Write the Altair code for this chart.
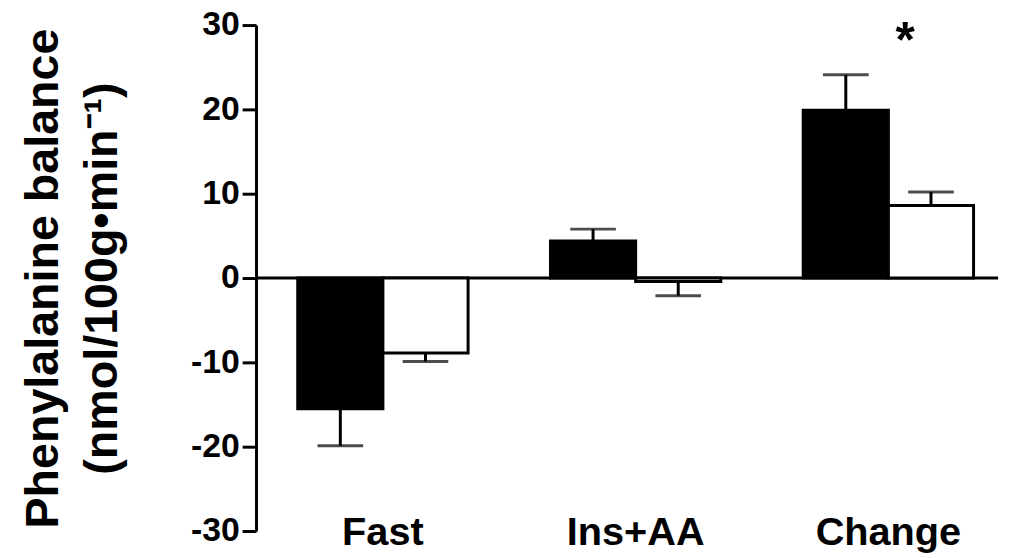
import altair as alt
import numpy as np
import pandas as pd

groups = ["Fast", "Ins+AA", "Change"]
series = ["Series A", "Series B"]
mean_a = [-15.5, 4.4, 19.9]
mean_b = [-8.9, -0.4, 8.6]
sem_a = [4.4, 1.4, 4.2]
sem_b = [1.0, 1.7, 1.6]
y_ticks = [-30, -20, -10, 0, 10, 20, 30]
y_title = ["Phenylalanine balance", "(nmol/100g\u2022min\u207b\u00b9)"]
star_group = "Change"
star_y = 28

rows = []
for g, m, s in zip(groups, mean_a, sem_a):
    rows.append({"group": g, "series": series[0], "mean": m, "sem": s})
for g, m, s in zip(groups, mean_b, sem_b):
    rows.append({"group": g, "series": series[1], "mean": m, "sem": s})
df = pd.DataFrame(rows)
df["end"] = df["mean"] + np.sign(df["mean"]) * df["sem"]

W, H = 748, 510
FONT = "Liberation Sans"

xscale = alt.Scale(domain=groups, paddingInner=0.326, paddingOuter=0.131, align=0.63)
yscale = alt.Scale(domain=[-30, 30], nice=False, zero=False)
offscale = alt.Scale(domain=series, paddingInner=0, paddingOuter=0)

x_enc = alt.X(
    "group:N", scale=xscale, sort=groups,
    axis=alt.Axis(title=None, domain=False, ticks=False, labelAngle=0,
                  labelFontSize=40, labelFontWeight="bold", labelFont=FONT,
                  labelColor="black", labelPadding=14, labelBaseline="alphabetic"),
)
off_enc = alt.XOffset("series:N", scale=offscale, sort=series)

y_axis = alt.Axis(values=y_ticks, title=y_title,
                  labelExpr="'' + datum.value",
                  titleFont=FONT, titleFontSize=47, titleFontWeight="bold",
                  titleColor="black", titlePadding=64, titleLineHeight=60,
                  labelFont=FONT, labelFontSize=34, labelFontWeight="bold",
                  labelColor="black", labelPadding=3,
                  tickSize=14, tickWidth=3, tickColor="black",
                  domainWidth=3, domainColor="black", grid=False)

zero = alt.Chart(pd.DataFrame({"y": [0]})).mark_rule(color="black", strokeWidth=3).encode(
    y=alt.Y("y:Q", scale=yscale, axis=y_axis), x=alt.value(0), x2=alt.value(W)
)

bars = alt.Chart(df).mark_bar(stroke="black", strokeWidth=3).encode(
    x=x_enc,
    xOffset=off_enc,
    y=alt.Y("mean:Q", scale=yscale, axis=y_axis),
    fill=alt.Fill("series:N", scale=alt.Scale(domain=series, range=["black", "white"]), legend=None),
)

err = alt.Chart(df).mark_rule(color="black", strokeWidth=3).encode(
    x=x_enc, xOffset=off_enc,
    y=alt.Y("mean:Q", scale=yscale, axis=y_axis), y2="end:Q",
)

caps = alt.Chart(df).mark_tick(color="black", thickness=3, size=46).encode(
    x=x_enc, xOffset=off_enc,
    y=alt.Y("end:Q", scale=yscale, axis=y_axis),
)

star = alt.Chart(pd.DataFrame({"group": [star_group], "y": [star_y]})).mark_text(
    text="*", fontSize=50, fontWeight="bold", font=FONT, color="black", dx=17, baseline="middle"
).encode(x=x_enc, y=alt.Y("y:Q", scale=yscale, axis=y_axis))

chart = alt.layer(zero, bars, err, caps, star).properties(
    width=W, height=H,
    autosize=alt.AutoSizeParams(type="none"),
    padding={"left": 250, "top": 15, "right": 8, "bottom": 25},
    background="white",
).configure_view(stroke=None)

chart.save("out.html", embed_options={"renderer": "svg", "actions": False})
